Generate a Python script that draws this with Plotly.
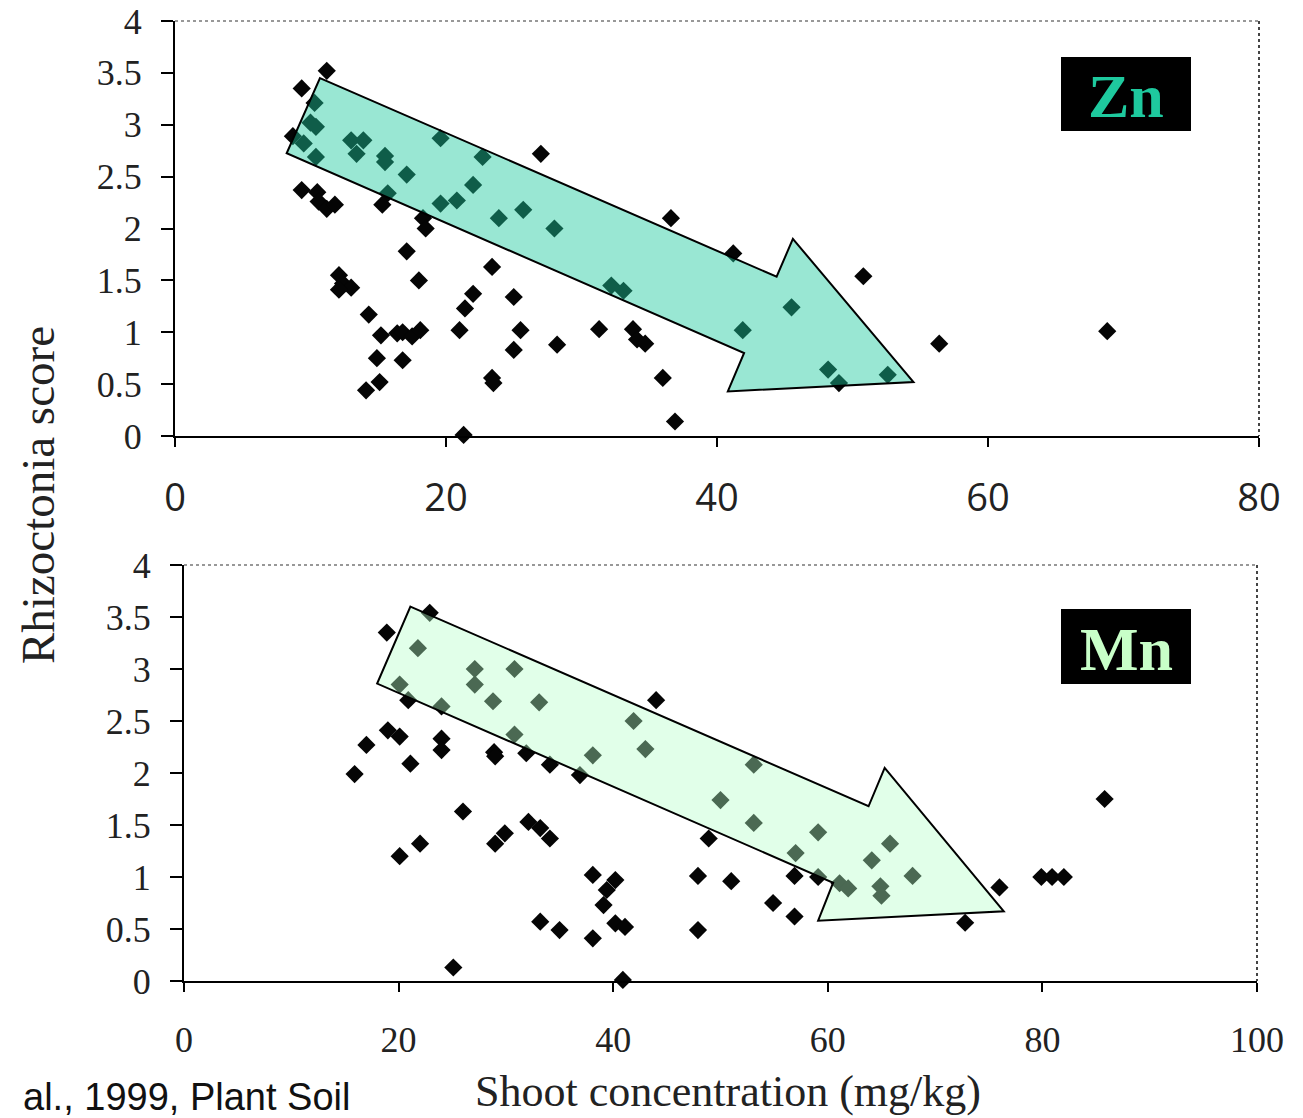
import plotly.graph_objects as go

# ---------------- data ----------------
zn_x = [11.2, 9.35, 10.3, 10.0, 10.4, 8.7, 9.5, 10.4, 13.0, 13.9, 13.4, 15.5, 15.5, 17.1,
        19.6, 22.7, 22.0, 19.6, 20.8, 23.9, 25.7, 9.35, 10.5, 10.6, 11.2, 11.8, 15.7, 15.3,
        18.3, 18.5, 17.1, 18.0, 12.1, 12.4, 13.0, 12.1, 14.3, 15.2, 16.4, 16.8, 17.5, 18.1,
        14.9, 16.8, 15.1, 14.1, 21.0, 22.0, 21.4, 23.4, 25.0, 25.0, 25.5, 23.4, 23.5, 21.3,
        27.0, 28.0, 28.2, 31.3, 32.2, 33.1, 33.8, 34.1, 34.7, 36.6, 36.0, 36.9, 41.2, 41.9,
        45.5, 48.2, 49.0, 52.6, 50.8, 56.4, 68.8]
zn_y = [3.52, 3.35, 3.21, 3.02, 2.98, 2.89, 2.82, 2.69, 2.85, 2.85, 2.72, 2.70, 2.64, 2.52,
        2.87, 2.69, 2.42, 2.24, 2.27, 2.10, 2.18, 2.37, 2.35, 2.26, 2.19, 2.23, 2.34, 2.23,
        2.10, 2.00, 1.78, 1.50, 1.55, 1.47, 1.43, 1.41, 1.17, 0.97, 0.99, 1.00, 0.96, 1.02,
        0.75, 0.73, 0.52, 0.44, 1.02, 1.37, 1.23, 1.63, 1.34, 0.83, 1.02, 0.56, 0.51, 0.01,
        2.72, 2.00, 0.88, 1.03, 1.45, 1.40, 1.03, 0.93, 0.89, 2.10, 0.56, 0.14, 1.76, 1.02,
        1.24, 0.64, 0.51, 0.59, 1.54, 0.89, 1.01]

mn_x = [22.9, 18.9, 21.8, 20.1, 20.9, 27.1, 27.1, 28.8, 24.0, 30.8, 30.8, 19.0, 20.1, 17.0,
        15.9, 21.1, 24.0, 24.0, 28.9, 29.0, 26.0, 22.0, 20.1, 29.9, 29.0, 25.1, 33.1, 31.9,
        34.1, 36.9, 38.1, 41.9, 43.0, 44.0, 53.1, 50.0, 53.1, 59.1, 57.0, 48.9, 32.1, 33.2,
        34.1, 38.1, 40.2, 39.4, 39.1, 33.2, 35.0, 38.1, 40.2, 41.1, 40.9, 47.9, 51.0, 47.9,
        54.9, 56.9, 56.9, 59.1, 61.1, 61.9, 64.1, 65.8, 64.9, 65.0, 67.9, 76.0, 72.8, 79.9,
        80.9, 82.0, 85.8]
mn_y = [3.54, 3.35, 3.20, 2.85, 2.70, 3.00, 2.85, 2.69, 2.64, 3.00, 2.37, 2.41, 2.35, 2.27,
        1.99, 2.09, 2.33, 2.22, 2.20, 2.16, 1.63, 1.32, 1.20, 1.42, 1.32, 0.13, 2.68, 2.19,
        2.08, 1.98, 2.17, 2.50, 2.23, 2.70, 2.08, 1.74, 1.52, 1.43, 1.23, 1.37, 1.53, 1.47,
        1.37, 1.02, 0.97, 0.875, 0.73, 0.57, 0.49, 0.41, 0.555, 0.52, 0.01, 1.01, 0.96, 0.49,
        0.75, 0.62, 1.01, 1.00, 0.94, 0.89, 1.16, 1.32, 0.91, 0.82, 1.01, 0.90, 0.56, 1.00,
        1.00, 1.00, 1.75]

y_ticks = [0, 0.5, 1, 1.5, 2, 2.5, 3, 3.5, 4]
y_ticktext = ["0", "0.5", "1", "1.5", "2", "2.5", "3", "3.5", "4"]
zn_x_ticks = [0, 20, 40, 60, 80]
mn_x_ticks = [0, 20, 40, 60, 80, 100]

# trend arrows (annotation decoration, in data units)
zn_arrow_x = [10.7, 44.4, 45.6, 54.5, 40.8, 42.0, 8.24]
zn_arrow_y = [3.45, 1.535, 1.90, 0.52, 0.43, 0.80, 2.725]
mn_arrow_x = [21.1, 63.8, 65.3, 76.4, 59.1, 60.5, 18.0]
mn_arrow_y = [3.60, 1.68, 2.05, 0.67, 0.58, 0.945, 2.86]

# ---------------- layout helpers ----------------
W, H = 1303, 1118
def px(x):
    return x / W
def py(y):
    return 1 - y / H

SERIF = "Liberation Serif, Times New Roman, serif"
SANS = "Open Sans, Liberation Sans, sans-serif"

fig = go.Figure()
fig.add_trace(go.Scatter(x=zn_x, y=zn_y, mode="markers", xaxis="x", yaxis="y",
                         marker=dict(symbol="diamond", size=14, color="#050505"),
                         cliponaxis=False, showlegend=False))
fig.add_trace(go.Scatter(x=mn_x, y=mn_y, mode="markers", xaxis="x2", yaxis="y2",
                         marker=dict(symbol="diamond", size=14, color="#050505"),
                         cliponaxis=False, showlegend=False))

def path_from(xs, ys):
    pts = " L ".join(f"{a},{b}" for a, b in zip(xs, ys))
    return "M " + pts + " Z"

shapes = [
    dict(type="path", xref="x", yref="y", path=path_from(zn_arrow_x, zn_arrow_y),
         fillcolor="rgba(29,202,158,0.45)", line=dict(color="black", width=2), layer="above"),
    dict(type="path", xref="x2", yref="y2", path=path_from(mn_arrow_x, mn_arrow_y),
         fillcolor="rgba(180,255,200,0.40)", line=dict(color="black", width=2), layer="above"),
    # dotted frame top/right (scanned look)
    dict(type="line", xref="paper", yref="paper", x0=px(175), x1=px(1259), y0=py(21), y1=py(21),
         line=dict(color="#777", width=1.5, dash="dot")),
    dict(type="line", xref="paper", yref="paper", x0=px(1259), x1=px(1259), y0=py(21), y1=py(436),
         line=dict(color="#444", width=2, dash="dot")),
    dict(type="line", xref="paper", yref="paper", x0=px(184), x1=px(1257), y0=py(565), y1=py(565),
         line=dict(color="#777", width=1.5, dash="dot")),
    dict(type="line", xref="paper", yref="paper", x0=px(1257), x1=px(1257), y0=py(565), y1=py(981),
         line=dict(color="#444", width=2, dash="dot")),
    # label boxes
    dict(type="rect", xref="paper", yref="paper", x0=px(1061), x1=px(1191), y0=py(131), y1=py(57),
         fillcolor="black", line=dict(width=0)),
    dict(type="rect", xref="paper", yref="paper", x0=px(1061), x1=px(1191), y0=py(684), y1=py(609),
         fillcolor="black", line=dict(width=0)),
]

annotations = [
    dict(text="<b>Zn</b>", xref="paper", yref="paper", x=px(1126), y=py(96), showarrow=False,
         font=dict(family=SERIF, size=62, color="#1ec99e"), xanchor="center", yanchor="middle"),
    dict(text="<b>Mn</b>", xref="paper", yref="paper", x=px(1126), y=py(649), showarrow=False,
         font=dict(family=SERIF, size=62, color="#c8ffc8"), xanchor="center", yanchor="middle"),
    dict(text="Rhizoctonia score", xref="paper", yref="paper", x=px(38), y=py(495), showarrow=False,
         textangle=-90, font=dict(family=SERIF, size=47, color="#222"),
         xanchor="center", yanchor="middle"),
    dict(text="Shoot concentration (mg/kg)", xref="paper", yref="paper", x=px(728), y=py(1117),
         showarrow=False, font=dict(family=SERIF, size=44, color="#222"), borderpad=0,
         xanchor="center", yanchor="bottom"),
    dict(text="al., 1999, Plant Soil", xref="paper", yref="paper", x=px(352), y=py(1097),
         showarrow=False, font=dict(family="Liberation Sans, Arial, sans-serif", size=38, color="#111"),
         xanchor="right", yanchor="middle"),
]

axis_common = dict(showgrid=False, zeroline=False, showline=True, linecolor="black", linewidth=2,
                   ticks="outside", tickcolor="black", tickwidth=2, automargin=False)

fig.update_layout(
    width=W, height=H, margin=dict(l=0, r=0, t=0, b=0),
    paper_bgcolor="white", plot_bgcolor="white", template="none",
    showlegend=False,
    xaxis=dict(**axis_common, domain=[px(175), px(1259)], range=[0, 80], anchor="y",
               tickvals=zn_x_ticks, ticklen=9, ticklabelstandoff=18,
               tickfont=dict(family=SANS, size=38, color="#222")),
    yaxis=dict(**axis_common, domain=[py(436), py(21)], range=[0, 4], anchor="x",
               tickvals=y_ticks, ticktext=y_ticktext, ticklen=12, ticklabelstandoff=12,
               tickfont=dict(family=SERIF, size=36, color="#222")),
    xaxis2=dict(**axis_common, domain=[px(184), px(1257)], range=[0, 100], anchor="y2",
                tickvals=mn_x_ticks, ticklen=9, ticklabelstandoff=17,
                tickfont=dict(family=SERIF, size=36, color="#222")),
    yaxis2=dict(**axis_common, domain=[py(981), py(565)], range=[0, 4], anchor="x2",
                tickvals=y_ticks, ticktext=y_ticktext, ticklen=12, ticklabelstandoff=12,
                tickfont=dict(family=SERIF, size=36, color="#222")),
    shapes=shapes, annotations=annotations,
)

fig.write_html("out.html")
